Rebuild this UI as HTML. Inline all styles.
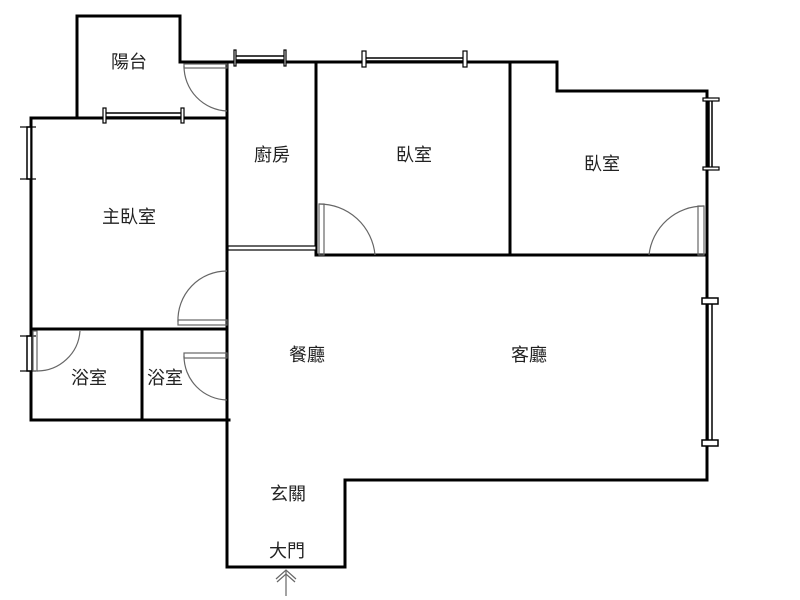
<!DOCTYPE html>
<html><head><meta charset="utf-8"><style>
html,body{margin:0;padding:0;background:#fff;}
svg{display:block;}
text{font-family:"Liberation Sans","Noto Sans CJK TC",sans-serif;font-size:18px;fill:#222;text-anchor:middle;dominant-baseline:central;}
</style></head><body>
<svg width="800" height="600" viewBox="0 0 800 600" xmlns="http://www.w3.org/2000/svg">
<g stroke="#000" stroke-width="3" fill="none" stroke-linecap="square">
<!-- balcony -->
<polyline points="77,118 77,16 180,16 180,62"/>
<!-- top wall -->
<polyline points="180,62 557,62 557,91 707,91 707,480 345,480 345,567 227,567 227,62"/>
<!-- master -->
<polyline points="227,118 31,118 31,420 229,420"/>
<line x1="31" y1="329" x2="227" y2="329"/>
<line x1="142" y1="329" x2="142" y2="420"/>
<!-- kitchen -->
<line x1="316" y1="62" x2="316" y2="255"/>
<line x1="316" y1="255" x2="707" y2="255"/>
<line x1="510" y1="62" x2="510" y2="255"/>
</g>
<g stroke="#000" stroke-width="1.2" fill="none">
<!-- kitchen bottom double -->
<rect x="228" y="246" width="88" height="4" fill="#fff"/>
<!-- windows -->
<rect x="104" y="113" width="79" height="4" fill="#fff" stroke-width="1.5"/>
<rect x="103" y="108" width="3" height="15" fill="#fff"/>
<rect x="181" y="108" width="3" height="15" fill="#fff"/>
<rect x="235" y="56" width="50" height="4" fill="#fff" stroke-width="1.5"/>
<rect x="234" y="50" width="2" height="16" fill="#fff"/>
<rect x="284" y="50" width="2" height="16" fill="#fff"/>
<rect x="363" y="58" width="101" height="3" fill="#fff" stroke-width="1.5"/>
<rect x="362" y="51" width="4" height="16" fill="#fff"/>
<rect x="463" y="51" width="4" height="16" fill="#fff"/>
<rect x="27" y="127" width="4" height="52" fill="#fff" stroke-width="1.5"/>
<line x1="20" y1="127" x2="36" y2="127"/><line x1="20" y1="179" x2="36" y2="179"/>
<rect x="709" y="99" width="3" height="69" fill="#fff" stroke-width="1.5"/>
<rect x="703" y="98" width="16" height="3" fill="#fff"/><rect x="703" y="167" width="16" height="3" fill="#fff"/>
<rect x="708" y="300" width="4" height="143" fill="#fff" stroke-width="1.5"/>
<rect x="702" y="298" width="16" height="6" fill="#fff" stroke-width="1.5"/>
<rect x="702" y="440" width="16" height="6" fill="#fff" stroke-width="1.5"/>
<rect x="27" y="336" width="5" height="35" fill="#fff" stroke-width="1.5"/>
<line x1="20" y1="336" x2="36" y2="336"/><line x1="20" y1="371" x2="36" y2="371"/>
</g>
<g stroke="#666" stroke-width="1.2" fill="none">
<!-- doors -->
<rect x="184" y="64" width="43" height="4"/>
<path d="M184,66 A45,45 0 0 0 227,111"/>
<rect x="319" y="204" width="5" height="51"/>
<path d="M319,204 A56,56 0 0 1 375,255"/>
<rect x="698" y="206" width="6" height="49"/>
<path d="M704,206 A55,55 0 0 0 649,255"/>
<rect x="178" y="320" width="49" height="5"/>
<path d="M178,322 A49,49 0 0 1 227,271"/>
<rect x="33" y="331" width="4" height="40"/>
<path d="M37,371 A43,43 0 0 0 80,331"/>
<rect x="184" y="353" width="43" height="5"/>
<path d="M184,356 A44,44 0 0 0 227,400"/>
<!-- arrow -->
<line x1="286" y1="571" x2="286" y2="596"/>
<polyline points="276,579 286,570 296,579"/>
<polyline points="277,582 286,574 295,582"/>
</g>
<text x="129" y="62">陽台</text>
<text x="272" y="155">廚房</text>
<text x="414" y="155">臥室</text>
<text x="602" y="164">臥室</text>
<text x="129" y="217">主臥室</text>
<text x="89" y="378">浴室</text>
<text x="165" y="378">浴室</text>
<text x="307" y="355">餐廳</text>
<text x="529" y="355">客廳</text>
<text x="288" y="494">玄關</text>
<text x="287" y="551">大門</text>
</svg>
</body></html>
